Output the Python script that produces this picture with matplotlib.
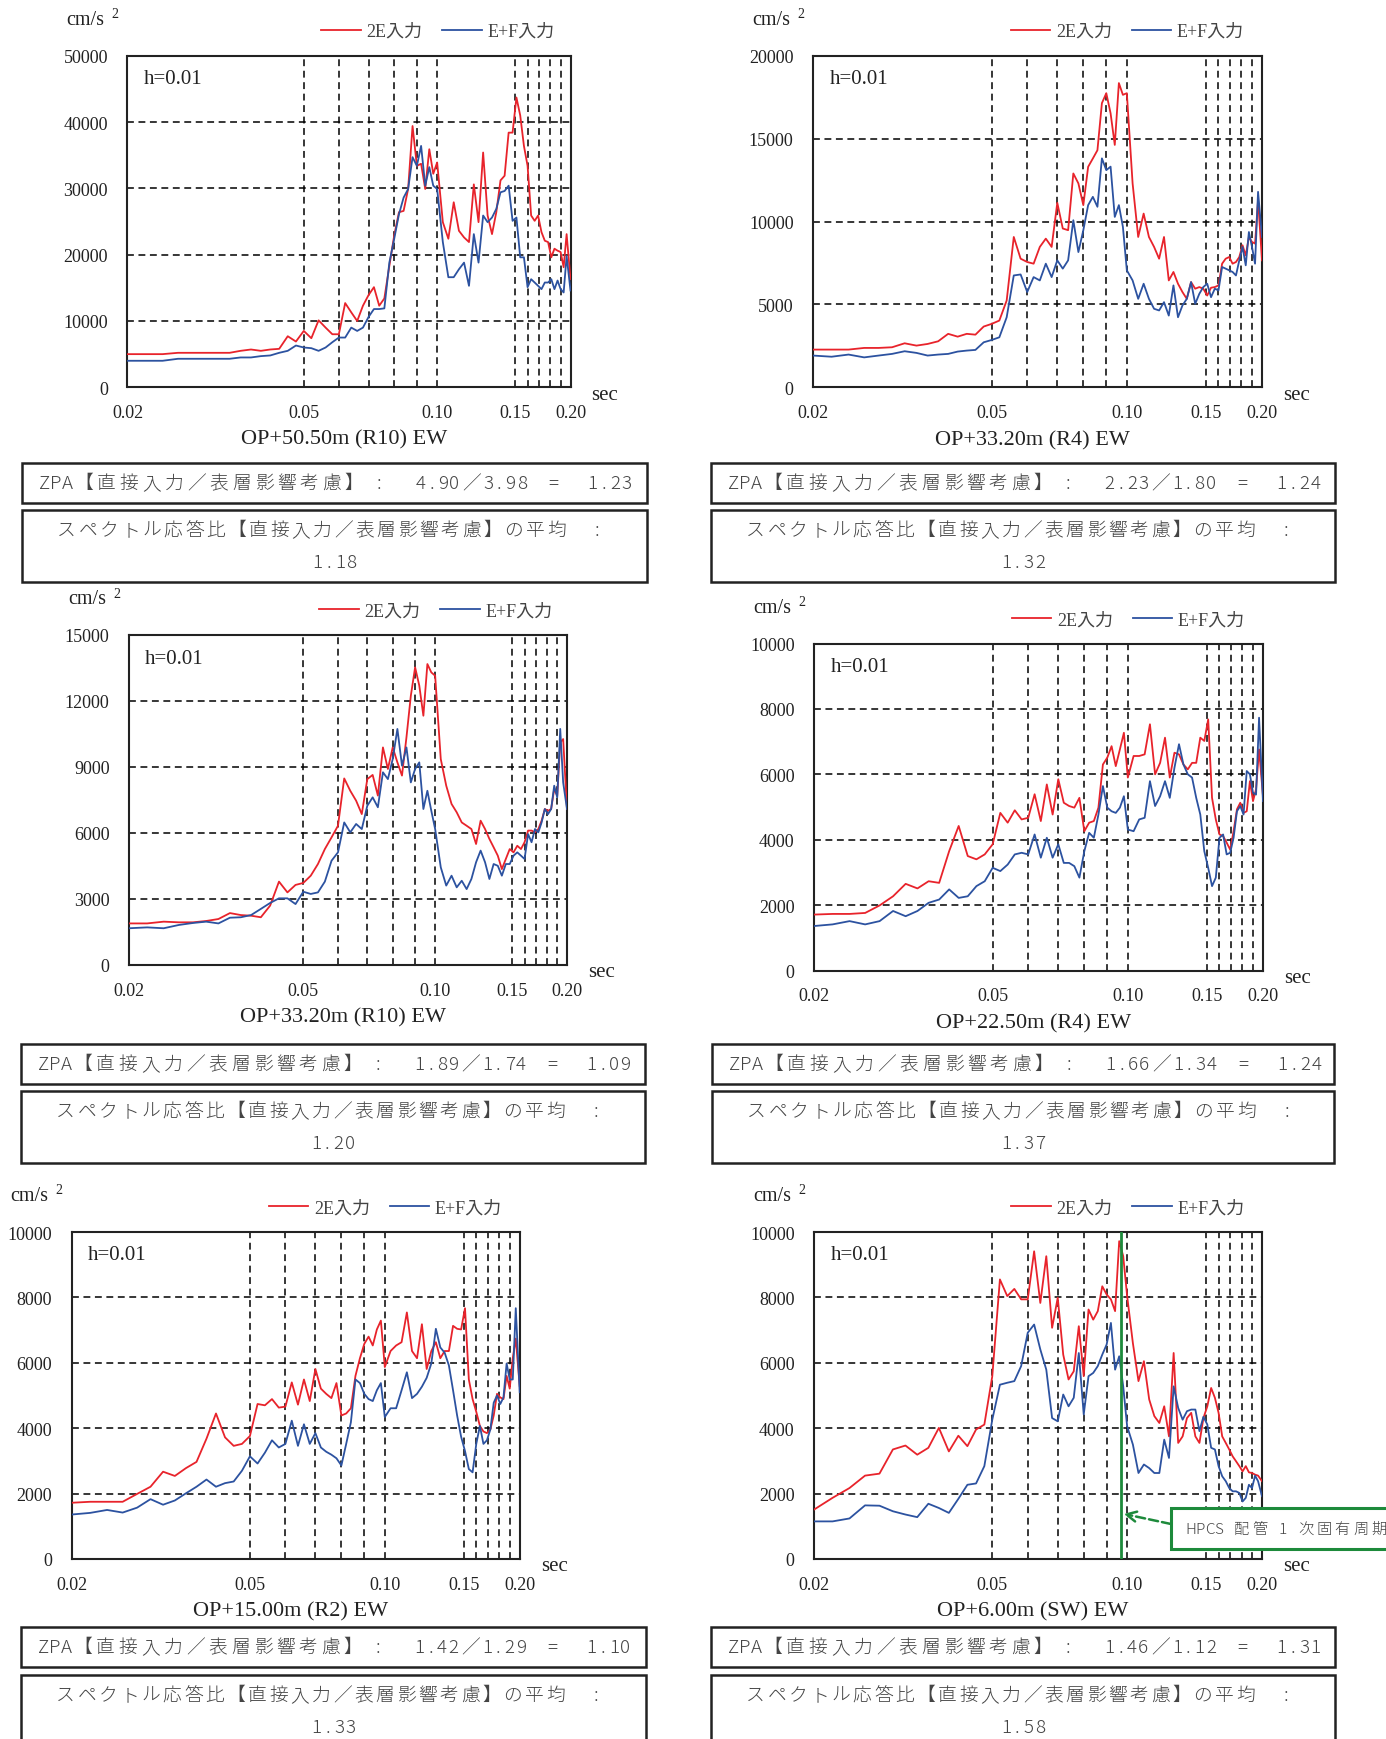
import numpy as np
import matplotlib
matplotlib.use('Agg')
import matplotlib.pyplot as plt
from matplotlib.patches import Rectangle
from matplotlib.ticker import FixedLocator, NullLocator

plt.rcParams['font.family'] = ['Liberation Serif', 'Noto Sans CJK JP']

# ---- data (period in sec, acceleration in cm/s2) ----
periods = [0.020, 0.022, 0.024, 0.026, 0.028, 0.030, 0.032, 0.034, 0.036, 0.038,
           0.040, 0.042, 0.044, 0.046, 0.048, 0.050, 0.052, 0.054, 0.056, 0.058,
           0.060, 0.062, 0.064, 0.066, 0.068, 0.070, 0.072, 0.074, 0.076, 0.078,
           0.080, 0.082, 0.084, 0.086, 0.088, 0.090, 0.092, 0.094, 0.096, 0.098,
           0.100, 0.103, 0.106, 0.109, 0.112, 0.115, 0.118, 0.121, 0.124, 0.127,
           0.130, 0.133, 0.136, 0.139, 0.142, 0.145, 0.148, 0.151, 0.154, 0.157,
           0.160, 0.163, 0.166, 0.169, 0.172, 0.175, 0.178, 0.181, 0.184, 0.187,
           0.190, 0.193, 0.196, 0.200]

op5050_2e = [5000, 5000, 5000, 5200, 5200, 5200, 5200, 5200, 5500, 5700,
             5500, 5700, 5800, 7700, 6900, 8500, 7400, 10100, 9000, 8000,
             8000, 12700, 11300, 10000, 12300, 13900, 15100, 12300, 13400, 18300,
             22900, 26400, 26600, 29900, 39400, 33400, 33700, 29900, 35900, 32200,
             33900, 24900, 22400, 27900, 23600, 22600, 21900, 30600, 24900, 35400,
             25900, 23100, 26400, 31200, 31900, 38400, 38400, 43700, 41000, 36400,
             33400, 25900, 25100, 25900, 23400, 22100, 21900, 19600, 20900, 20600,
             20400, 18100, 23100, 16300]
op5050_ef = [4000, 4000, 4000, 4300, 4300, 4300, 4300, 4300, 4500, 4500,
             4700, 4800, 5200, 5500, 6300, 6000, 5900, 5500, 6000, 6800,
             7500, 7500, 9000, 8500, 9000, 10600, 11800, 11800, 11900, 18800,
             22400, 26100, 28600, 29900, 34700, 33400, 36400, 30400, 33200, 30400,
             29900, 21900, 16600, 16600, 17800, 18800, 15300, 23100, 18800, 25900,
             24900, 25600, 26900, 29400, 29600, 30400, 25100, 25600, 19600, 19600,
             15100, 16300, 15800, 15300, 14800, 15800, 15800, 16300, 14800, 16100,
             14800, 14300, 19800, 14600]

op3320r4_2e = [2280, 2280, 2280, 2380, 2380, 2420, 2660, 2520, 2620, 2780,
               3230, 3060, 3230, 3180, 3670, 3830, 4030, 5240, 9070, 7760,
               7560, 7460, 8470, 8970, 8470, 11130, 9580, 9480, 12900, 12300,
               10990, 13300, 13800, 14300, 17140, 17740, 16530, 14620, 18350, 17640,
               17740, 12300, 9070, 10480, 9070, 8470, 7760, 9070, 6450, 6960,
               6250, 5750, 5340, 6350, 5950, 6050, 5950, 5540, 6010, 6050,
               6150, 7460, 7760, 7860, 7460, 7560, 7860, 8570, 7960, 9070,
               8770, 8670, 11290, 7660]
op3320r4_ef = [1920, 1850, 1980, 1810, 1920, 2020, 2180, 2080, 1920, 1980,
               2020, 2160, 2220, 2260, 2720, 2860, 3020, 4230, 6750, 6810,
               5750, 6650, 6450, 7460, 6650, 7660, 7160, 7660, 10080, 8160,
               9480, 10990, 11490, 10890, 13810, 13100, 13310, 10280, 10990, 9680,
               7060, 6450, 5340, 6250, 5340, 4740, 4640, 5140, 4330, 6150,
               4230, 4940, 5340, 6350, 5040, 5640, 6050, 6250, 5440, 5950,
               5850, 7260, 7160, 7060, 6960, 6750, 7660, 8470, 7360, 9370,
               8470, 7460, 11790, 9070]

op3320r10_2e = [1890, 1890, 1970, 1940, 1940, 2000, 2090, 2360, 2270, 2240,
                2170, 2700, 3790, 3300, 3640, 3730, 4060, 4590, 5270, 5800,
                6330, 8480, 7920, 7470, 6860, 8450, 8640, 7700, 9890, 8910,
                9890, 9210, 8610, 10350, 12240, 13530, 12700, 11330, 13680, 13300,
                13150, 9360, 8150, 7320, 6940, 6480, 6330, 6180, 5500, 6560,
                6180, 5730, 5350, 4970, 4360, 4820, 5270, 5120, 5420, 5270,
                5580, 6110, 6110, 6030, 6180, 6560, 7090, 7010, 7090, 8000,
                7700, 10120, 10270, 7090]
op3320r10_ef = [1670, 1710, 1670, 1820, 1910, 1970, 1890, 2150, 2170, 2270,
                2550, 2820, 3030, 3030, 2770, 3330, 3230, 3300, 3790, 4740,
                5120, 6480, 6030, 6410, 6180, 7240, 7620, 7170, 8760, 8450,
                9360, 10730, 9060, 9890, 8300, 8910, 9210, 7090, 7920, 7010,
                6180, 4440, 3610, 4060, 3530, 3830, 3450, 3910, 4670, 5200,
                4670, 3910, 4590, 4510, 4060, 4590, 4590, 4970, 5120, 4970,
                4820, 5950, 5580, 6180, 6030, 6480, 7090, 6860, 7090, 8150,
                7620, 10730, 8300, 7090]

op2250_2e = [1710, 1730, 1730, 1760, 1990, 2270, 2650, 2510, 2730, 2680,
             3650, 4420, 3500, 3400, 3550, 3860, 4820, 4520, 4900, 4620,
             4670, 5390, 4570, 5690, 4770, 5850, 5130, 5030, 4980, 5280,
             4260, 4520, 4570, 4980, 6300, 6510, 6860, 6250, 6760, 7270,
             5900, 6560, 6560, 6610, 7530, 6000, 6350, 7120, 5900, 6660,
             6610, 6300, 6150, 6350, 6350, 7120, 7020, 7680, 5280, 4620,
             4160, 4110, 3910, 3700, 4260, 4930, 5130, 4820, 4870, 5790,
             5180, 5540, 6760, 5330]
op2250_ef = [1360, 1410, 1510, 1410, 1510, 1820, 1660, 1820, 2070, 2170,
             2480, 2220, 2270, 2580, 2730, 3140, 3040, 3240, 3550, 3600,
             3550, 4160, 3450, 4060, 3450, 3860, 3290, 3290, 3190, 2840,
             3650, 4210, 4060, 4770, 5640, 4980, 4870, 4820, 4980, 5330,
             4310, 4260, 4620, 4670, 5790, 5030, 5330, 5790, 5280, 6200,
             6920, 6300, 6000, 5900, 5280, 4770, 3650, 3140, 2580, 2840,
             4060, 4160, 3550, 3600, 4060, 4870, 5030, 4770, 6100, 6000,
             5440, 5380, 7730, 5180]

op1500_2e = [1720, 1750, 1750, 1750, 1990, 2210, 2670, 2540, 2780, 2970,
             3680, 4450, 3720, 3460, 3520, 3760, 4740, 4700, 4890, 4630,
             4660, 5400, 4720, 5490, 4830, 5810, 5210, 5050, 4920, 5380,
             4390, 4450, 4610, 5600, 6140, 6580, 6800, 6530, 7020, 7290,
             5870, 6360, 6530, 6630, 7540, 6360, 6140, 7180, 5810, 6360,
             6630, 6140, 6360, 6360, 7130, 7040, 7020, 7670, 5490, 4890,
             4500, 4070, 3900, 3850, 3960, 4390, 5050, 4940, 4890, 5600,
             5210, 6140, 6740, 5290]
op1500_ef = [1360, 1410, 1500, 1420, 1570, 1830, 1660, 1790, 2010, 2210,
             2430, 2210, 2320, 2370, 2700, 3140, 2920, 3250, 3630, 3410,
             3520, 4230, 3460, 4120, 3520, 3850, 3410, 3280, 3190, 3080,
             2860, 3520, 4180, 5490, 5380, 5050, 4890, 4830, 5160, 5380,
             4340, 4610, 4610, 5160, 5710, 4920, 5050, 5270, 5540, 5980,
             7040, 6470, 6310, 5920, 5160, 4390, 3740, 3300, 2750, 2650,
             3520, 4070, 3520, 3630, 3960, 4780, 5000, 4740, 4940, 5980,
             5490, 5490, 7670, 5100]

op600_2e = [1510, 1870, 2170, 2550, 2610, 3350, 3470, 3190, 3400, 4010,
            3290, 3770, 3450, 3960, 4110, 5590, 8550, 8040, 8260, 7940,
            7940, 9410, 7830, 9260, 7070, 7990, 6250, 5490, 5740, 7120,
            5590, 7630, 7320, 7580, 8340, 8090, 7940, 7580, 9720, 9260,
            8040, 6600, 5440, 6050, 4880, 4370, 4160, 4670, 3750, 6300,
            3550, 3750, 4310, 4470, 3750, 3550, 4310, 4670, 5230, 4930,
            4470, 3750, 3550, 3350, 3140, 2990, 2840, 2680, 2840, 2650,
            2630, 2580, 2550, 2380]
op600_ef = [1150, 1150, 1240, 1640, 1630, 1460, 1360, 1280, 1690, 1560,
            1410, 1840, 2270, 2310, 2840, 4260, 5330, 5390, 5440, 5900,
            6920, 7170, 6410, 5790, 4310, 4210, 5030, 4670, 4930, 6300,
            4420, 5590, 5690, 5900, 6250, 6560, 7220, 5790, 6200, 5280,
            4060, 3500, 2630, 2890, 2780, 2630, 2630, 3650, 3090, 5280,
            4620, 4260, 4520, 4570, 4570, 3910, 4350, 4110, 3400, 3350,
            2840, 2530, 2380, 2170, 2070, 2070, 2020, 1760, 1870, 2270,
            2170, 2550, 2380, 1920]

titles = ['OP+50.50m (R10) EW', 'OP+33.20m (R4) EW', 'OP+33.20m (R10) EW',
          'OP+22.50m (R4) EW', 'OP+15.00m (R2) EW', 'OP+6.00m (SW) EW']
series_2e = [op5050_2e, op3320r4_2e, op3320r10_2e, op2250_2e, op1500_2e, op600_2e]
series_ef = [op5050_ef, op3320r4_ef, op3320r10_ef, op2250_ef, op1500_ef, op600_ef]
y_max = [50000, 20000, 15000, 10000, 10000, 10000]
y_step = [10000, 5000, 3000, 2000, 2000, 2000]
zpa_direct = [4.90, 2.23, 1.89, 1.66, 1.42, 1.46]
zpa_surface = [3.98, 1.80, 1.74, 1.34, 1.29, 1.12]
zpa_ratio = [1.23, 1.24, 1.09, 1.24, 1.10, 1.31]
spec_mean = [1.18, 1.32, 1.20, 1.37, 1.33, 1.58]

grid_periods = [0.05, 0.06, 0.07, 0.08, 0.09, 0.10, 0.15, 0.16, 0.17, 0.18, 0.19]
x_ticks = [0.02, 0.05, 0.10, 0.15, 0.20]
x_tick_labels = ['0.02', '0.05', '0.10', '0.15', '0.20']
hpcs_period = 0.097

# ---- layout (figure pixels) ----
W, H = 1386, 1740
fig = plt.figure(figsize=(W / 100, H / 100), dpi=100)

RED = '#e8232b'
BLUE = '#2c52a0'
GREEN = '#1d8a3b'
INK = '#222222'
GRAY = '#444444'

axes_px = [(127.5, 56.7, 570.5, 388.3), (813, 56.7, 1262, 388.4),
           (129, 636, 567, 966), (814, 644.5, 1263, 971.5),
           (71.6, 1233, 519.7, 1560), (814, 1233, 1262, 1560)]
box_cols = [(22, 647), (711, 1335), (21, 645), (712, 1334), (21, 646), (711, 1335)]
zpa_tops = [464, 464, 1045, 1045, 1628, 1628]
spec_tops = [511, 511, 1092, 1092, 1676, 1676]


def fx(x):
    return x / W


def fy(y):
    return 1 - y / H


def spaced(x, y, s, pitch, size, color=GRAY):
    # fixed-pitch placement, like the original's wide Mincho text
    for ch in s:
        w = pitch if ord(ch) > 0x2000 else pitch / 2
        if ch != ' ':
            fig.text(fx(x + w / 2), fy(y), ch, ha='center', va='center',
                     fontsize=size, color=color, fontweight='light',
                     family=['Noto Sans CJK JP'])
        x += w


def box(x0, y0, x1, y1, color=INK, lw=1.8):
    fig.add_artist(Rectangle((fx(x0), fy(y1)), (x1 - x0) / W, (y1 - y0) / H,
                             transform=fig.transFigure, fill=True, fc='white',
                             ec=color, lw=lw, clip_on=False))


dash = (0, (4.5, 3))
axes = []
for i in range(6):
    l, t, r, b = axes_px[i]
    ax = fig.add_axes([fx(l), fy(b), (r - l) / W, (b - t) / H])
    axes.append(ax)
    ax.set_xscale('log')
    for p in grid_periods:
        ax.axvline(p, color='black', lw=1.1, ls=dash, zorder=1)
    yt = np.arange(0, y_max[i] + 1, y_step[i])
    for v in yt[1:-1]:
        ax.axhline(v, color='black', lw=1.1, ls=dash, zorder=1)
    ax.plot(periods, series_2e[i], color=RED, lw=1.3, label='2E入力', zorder=3)
    ax.plot(periods, series_ef[i], color=BLUE, lw=1.3, label='E+F入力', zorder=3)
    ax.set_xlim(0.02, 0.2)
    ax.set_ylim(0, y_max[i])
    ax.xaxis.set_major_locator(FixedLocator(x_ticks))
    ax.xaxis.set_minor_locator(NullLocator())
    ax.set_xticklabels(x_tick_labels)
    ax.set_yticks(yt)
    ax.set_yticklabels([str(int(v)) for v in yt])
    ax.tick_params(length=0, labelsize=13, colors=INK)
    ax.tick_params(axis='x', pad=12)
    ax.tick_params(axis='y', pad=14)
    for s in ax.spines.values():
        s.set_linewidth(1.5)
        s.set_color(INK)
    ax.text(0.037, 0.93, 'h=0.01', transform=ax.transAxes, fontsize=15,
            va='center', ha='left', color=INK)
    ax.legend(loc='center', bbox_to_anchor=(0.70, 1.073), ncol=2, frameon=False,
              prop={'family': ['Liberation Serif', 'Noto Sans CJK JP'], 'size': 13},
              handlelength=2.2, handletextpad=0.3, columnspacing=1.1,
              borderaxespad=0, borderpad=0, labelcolor=GRAY)

    fig.text(fx(l - 61), fy(t - 36), 'cm/s', fontsize=14.5, va='center', ha='left', color=INK)
    fig.text(fx(l - 16), fy(t - 42), '2', fontsize=10, va='center', ha='left', color=INK)
    fig.text(fx(r + 21), fy(b + 7), 'sec', fontsize=15, va='center', ha='left', color=INK)
    fig.text(fx((l + r) / 2 - 5), fy(b + 52), titles[i], fontsize=16,
             ha='center', va='center', color=INK)

    # ratio boxes
    x0, x1 = box_cols[i]
    zt = zpa_tops[i]
    box(x0, zt, x1, zt + 40)
    spaced(x0 + 17, zt + 20, 'ZPA【直接入力／表層影響考慮】', 22.5, 13.5)
    spaced(x0 + 354, zt + 20, ':', 12, 13.5)
    spaced(x0 + 393, zt + 20, f'{zpa_direct[i]:.2f}／{zpa_surface[i]:.2f}', 22.5, 13.5)
    spaced(x0 + 527, zt + 20, '=', 16, 13.5)
    spaced(x0 + 565, zt + 20, f'{zpa_ratio[i]:.2f}', 22.5, 13.5)

    st = spec_tops[i]
    box(x0, st, x1, st + 72)
    spaced(x0 + 34, st + 20, 'スペクトル応答比【直接入力／表層影響考慮】の平均', 21.3, 13.5)
    spaced(x0 + 572, st + 20, ':', 12, 13.5)
    spaced((x0 + x1) / 2 - 22.5, st + 52, f'{spec_mean[i]:.2f}', 22.5, 13.5)

# HPCS natural period marker on the last panel
ax6 = axes[5]
ax6.axvline(hpcs_period, color=GREEN, lw=2, zorder=4)
ax6.annotate('', xy=(0.0982, 1380), xycoords='data',
             xytext=(fx(1171), fy(1525)), textcoords='figure fraction',
             arrowprops=dict(arrowstyle='->', color=GREEN, lw=1.8, ls='--',
                             shrinkA=0, shrinkB=0, mutation_scale=18))
box(1171, 1509, 1400, 1550, color=GREEN, lw=2.2)
spaced(1186.7, 1530, 'HPCS 配管 1 次固有周期', 18.3, 11, color='#444444')

fig.savefig('out.png', dpi=100)
